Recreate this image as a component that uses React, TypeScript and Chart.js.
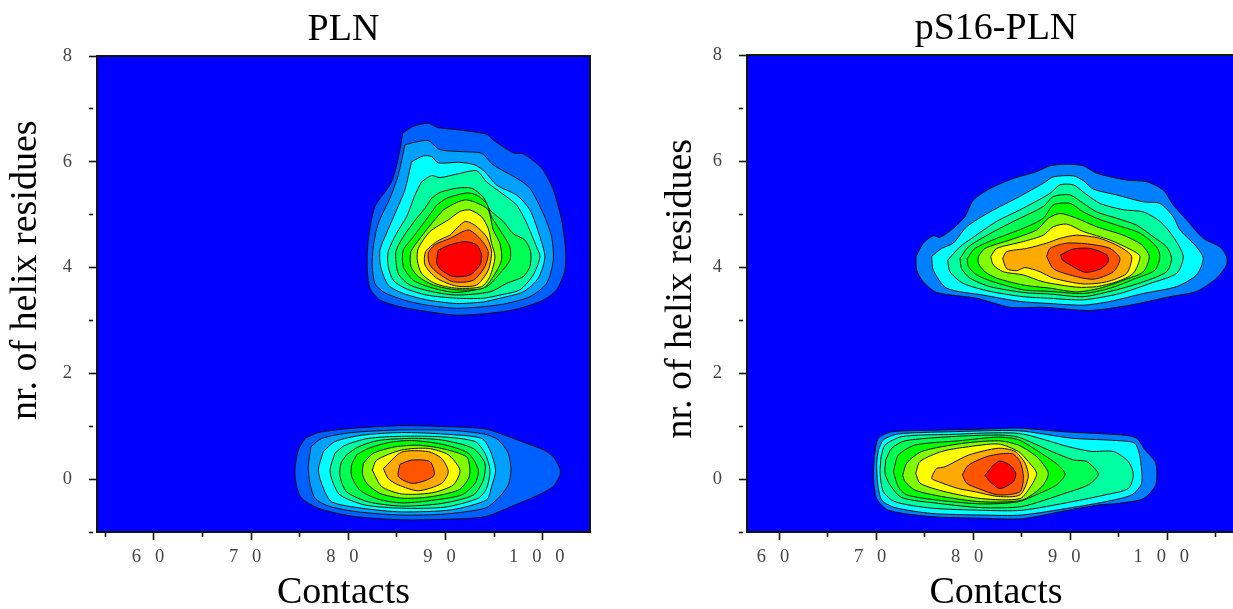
import React, { useEffect, useRef } from "react";
import { Chart, registerables } from "chart.js";

Chart.register(...registerables);

type Pt = [number, number];

const plnTitle = "PLN";
const phosTitle = "pS16-PLN";
const xAxisTitle = "Contacts";
const yAxisTitle = "nr. of helix residues";

const plnXRange = [54.14, 104.86];
const phosXRange = [56.7, 108];
const yRange = [-1, 8];
const plnXTicks = [55, 60, 65, 70, 75, 80, 85, 90, 95, 100];
const phosXTicks = [60, 65, 70, 75, 80, 85, 90, 95, 100, 105];
const yTicks = [-1, 0, 1, 2, 3, 4, 5, 6, 7, 8];
const xTickLabels: Record<number, string> = { 60: "6   0", 70: "7   0", 80: "8   0", 90: "9   0", 100: "1   0   0" };

const plotBlue = "#0000ff";
const plnUpperColors = ["#0060ff", "#00a0ff", "#00ffff", "#00ffa0", "#00ff55", "#00ff00", "#80ff00", "#ffff00", "#ffaa00", "#ff5500", "#ff0000"];
const plnLowerColors = ["#0060ff", "#00a0ff", "#00ffff", "#00ffa0", "#00ff55", "#00ff00", "#80ff00", "#ffff00", "#ffaa00", "#ff5500"];
const phosColors = ["#0080ff", "#00ffff", "#00ffa0", "#00ff55", "#00ff00", "#80ff00", "#ffff00", "#ffaa00", "#ff5500", "#ff0000"];

const plnUpper: Pt[][] = [
  [[85.58,6.54],[86.68,6.67],[88.22,6.73],[89.15,6.65],[91.48,6.6],[94.22,6.52],[94.91,6.41],[96.96,6.17],[97.99,6.15],[99.88,5.88],[101.08,5.47],[101.94,4.9],[102.35,4.33],[102.28,3.95],[101.42,3.58],[99.88,3.37],[96.96,3.2],[94.22,3.13],[91.13,3.1],[88.05,3.17],[85.3,3.26],[83.25,3.39],[82.22,3.61],[81.94,4.02],[82.05,4.52],[82.73,5.15],[84.45,5.62],[85.24,6.16]],
  [[85.82,6.32],[86.85,6.37],[88.22,6.4],[89.42,6.23],[91.82,6.19],[93.71,6.16],[94.91,5.94],[97.31,5.69],[98.68,5.5],[100.05,5.02],[100.91,4.58],[101.08,4.14],[100.39,3.7],[98.68,3.45],[96.28,3.32],[93.88,3.26],[91.13,3.23],[88.05,3.29],[85.65,3.39],[83.59,3.54],[82.73,3.7],[82.46,4.02],[82.56,4.39],[83.08,4.84],[84.28,5.31],[85.13,5.75]],
  [[86.5,6.0],[87.7,6.11],[88.56,6.1],[89.25,5.98],[91.48,5.99],[93.02,5.94],[94.05,5.81],[95.25,5.56],[97.31,5.37],[98.68,5.09],[99.71,4.58],[100.22,4.2],[99.54,3.8],[97.99,3.54],[95.59,3.42],[93.88,3.35],[91.13,3.32],[88.05,3.39],[85.65,3.51],[84.1,3.67],[83.32,4.02],[83.25,4.33],[83.93,4.65],[84.96,5.09],[85.82,5.47]],
  [[87.53,5.62],[88.56,5.74],[89.42,5.7],[91.48,5.78],[93.19,5.83],[94.22,5.62],[95.59,5.43],[97.31,5.18],[98.34,4.84],[99.36,4.39],[99.71,4.2],[99.02,3.86],[97.65,3.58],[95.59,3.48],[93.88,3.42],[91.13,3.42],[88.05,3.48],[85.82,3.61],[84.62,3.76],[84.1,4.02],[84.1,4.3],[84.96,4.65],[85.99,4.96],[86.85,5.37]],
  [[88.56,5.31],[89.42,5.42],[91.13,5.5],[92.68,5.5],[93.88,5.33],[94.56,5.09],[95.94,4.87],[96.96,4.64],[98.16,4.52],[98.75,4.3],[98.68,4.02],[97.99,3.83],[96.28,3.7],[94.56,3.54],[91.13,3.48],[88.73,3.54],[86.33,3.67],[85.13,3.89],[84.89,4.3],[85.65,4.58],[87.02,4.93],[87.88,5.12]],
  [[89.08,5.18],[90.11,5.31],[92.16,5.41],[93.19,5.37],[94.22,5.21],[94.73,4.96],[95.59,4.71],[96.62,4.39],[96.62,4.14],[95.59,3.89],[94.22,3.64],[91.13,3.53],[88.73,3.61],[86.68,3.76],[85.65,4.02],[85.65,4.33],[86.68,4.58],[88.22,4.96]],
  [[89.76,5.09],[91.13,5.23],[92.16,5.28],[93.36,5.21],[94.39,5.09],[94.91,4.71],[95.59,4.46],[95.76,4.14],[94.91,3.83],[93.88,3.61],[91.13,3.58],[88.73,3.67],[87.19,3.83],[86.44,4.02],[86.44,4.3],[87.36,4.55],[88.73,4.87]],
  [[90.28,4.9],[91.48,5.06],[92.5,5.09],[93.71,4.96],[94.39,4.74],[94.73,4.46],[95.08,4.2],[94.56,3.83],[93.71,3.64],[91.13,3.61],[88.9,3.7],[87.53,3.89],[87.09,4.14],[87.19,4.36],[88.39,4.68]],
  [[90.45,4.61],[91.99,4.87],[93.02,4.8],[94.22,4.58],[94.73,4.3],[94.39,3.95],[93.19,3.67],[91.13,3.65],[89.08,3.8],[87.88,4.05],[87.95,4.3],[89.08,4.49]],
  [[90.45,4.55],[92.33,4.71],[93.53,4.55],[94.39,4.3],[94.05,4.02],[92.85,3.76],[90.79,3.73],[89.25,3.89],[88.39,4.05],[88.22,4.27],[88.9,4.43]],
  [[89.25,4.33],[90.45,4.43],[91.99,4.49],[93.19,4.43],[93.71,4.24],[93.53,4.05],[92.5,3.86],[90.79,3.83],[89.59,3.95],[89.08,4.08]],
];

const plnLower: Pt[][] = [
  [[75.54,0.77],[76.91,0.88],[80.34,0.96],[85.48,1.01],[90.63,0.99],[94.05,0.95],[96.11,0.83],[97.83,0.71],[100.23,0.54],[101.08,0.42],[101.77,0.2],[101.77,0.08],[101.08,-0.14],[99.2,-0.33],[97.14,-0.49],[94.05,-0.71],[89.94,-0.76],[85.48,-0.77],[80.34,-0.7],[76.91,-0.55],[75.2,-0.36],[74.68,-0.14],[74.51,0.17],[74.85,0.55]],
  [[76.15,0.61],[77.25,0.77],[80.34,0.88],[85.48,0.93],[90.63,0.92],[94.05,0.85],[95.43,0.74],[96.45,0.49],[96.73,0.17],[96.45,-0.11],[95.43,-0.36],[94.05,-0.55],[89.94,-0.66],[85.48,-0.68],[81.02,-0.62],[77.94,-0.51],[76.57,-0.36],[76.05,-0.08],[75.88,0.24]],
  [[77.42,0.52],[78.62,0.71],[81.37,0.83],[85.48,0.88],[89.94,0.85],[93.71,0.77],[94.57,0.55],[95.15,0.17],[94.74,-0.14],[94.23,-0.39],[90.63,-0.58],[85.48,-0.62],[81.37,-0.55],[78.28,-0.43],[77.42,-0.17],[76.91,0.17]],
  [[78.62,0.49],[79.65,0.64],[82.05,0.77],[85.48,0.81],[89.6,0.8],[93.03,0.71],[94.05,0.49],[94.57,0.17],[94.23,-0.17],[93.37,-0.36],[89.94,-0.53],[85.48,-0.55],[81.71,-0.49],[79.14,-0.3],[78.45,-0.08],[78.11,0.17]],
  [[79.82,0.46],[81.02,0.61],[83.08,0.73],[86.51,0.77],[89.6,0.74],[92.85,0.58],[94.05,0.3],[93.88,-0.02],[92.85,-0.3],[89.6,-0.46],[85.48,-0.51],[82.05,-0.43],[79.82,-0.24],[79.14,0.05],[79.24,0.3]],
  [[80.85,0.46],[82.05,0.58],[84.11,0.69],[86.51,0.73],[89.6,0.66],[92.34,0.49],[93.37,0.17],[93.03,-0.08],[91.65,-0.3],[88.22,-0.41],[85.48,-0.45],[83.08,-0.38],[81.2,-0.21],[80.34,0.05],[80.34,0.27]],
  [[81.54,0.3],[82.57,0.49],[84.8,0.61],[87.2,0.64],[89.6,0.58],[92.17,0.42],[92.51,0.17],[92.34,0.0],[91.31,-0.21],[88.22,-0.34],[85.48,-0.36],[83.25,-0.27],[81.88,-0.08],[81.44,0.11]],
  [[82.46,0.17],[82.91,0.36],[85.48,0.55],[88.22,0.58],[90.28,0.46],[91.48,0.17],[90.8,-0.11],[88.57,-0.26],[85.48,-0.28],[83.42,-0.14]],
  [[83.6,0.2],[85.48,0.51],[88.22,0.52],[89.6,0.39],[90.28,0.14],[89.6,-0.08],[87.2,-0.22],[85.14,-0.11],[84.11,0.01]],
  [[85.31,0.28],[86.51,0.36],[88.4,0.33],[88.84,0.08],[87.88,-0.03],[86.51,-0.08],[85.14,0.05]],
];

const phosUpper: Pt[][] = [
  [[74.11,4.2],[74.86,4.45],[75.89,4.59],[76.58,4.56],[77.95,4.73],[79.15,4.95],[80.01,5.26],[81.73,5.48],[84.13,5.67],[86.54,5.8],[87.91,5.91],[89.63,5.94],[91.34,5.91],[92.71,5.77],[95.8,5.64],[97.86,5.61],[99.58,5.45],[100.61,5.17],[101.98,4.89],[103.7,4.54],[105.42,4.38],[106.1,4.2],[106.1,4.04],[105.07,3.79],[103.01,3.54],[100.27,3.44],[96.15,3.28],[92.03,3.18],[87.22,3.24],[83.79,3.24],[80.36,3.41],[76.24,3.52],[74.86,3.72],[74.18,3.94]],
  [[75.72,4.2],[76.75,4.35],[77.95,4.45],[79.33,4.76],[81.73,5.04],[84.48,5.3],[87.22,5.58],[88.25,5.7],[90.31,5.72],[91.34,5.63],[92.37,5.47],[94.77,5.36],[97.52,5.23],[99.24,5.2],[100.61,4.95],[101.3,4.7],[103.01,4.38],[103.7,4.16],[103.01,3.85],[100.95,3.63],[97.52,3.5],[94.09,3.35],[91.34,3.28],[87.91,3.31],[84.82,3.35],[81.04,3.47],[77.27,3.6],[75.89,3.94]],
  [[77.37,4.13],[78.64,4.38],[79.84,4.54],[82.42,4.86],[85.16,5.11],[87.91,5.39],[88.94,5.55],[90.31,5.55],[91.51,5.39],[93.06,5.2],[95.46,5.08],[97.52,5.04],[99.24,4.86],[100.61,4.57],[101.64,4.2],[100.95,3.88],[98.21,3.69],[95.12,3.5],[91.34,3.38],[87.91,3.41],[85.16,3.44],[81.73,3.54],[78.98,3.69],[77.61,3.91]],
  [[78.64,4.16],[79.5,4.38],[81.73,4.63],[84.48,4.89],[87.22,5.14],[88.25,5.33],[89.97,5.36],[91.34,5.2],[92.71,5.04],[94.77,4.92],[96.83,4.79],[98.55,4.57],[99.92,4.38],[100.44,4.16],[99.92,3.91],[97.52,3.72],[94.77,3.57],[91.34,3.44],[87.91,3.49],[85.16,3.52],[81.73,3.63],[79.67,3.79],[78.81,3.97]],
  [[79.39,4.16],[80.18,4.35],[82.42,4.54],[85.16,4.73],[87.22,4.92],[88.25,5.17],[89.97,5.2],[91.34,5.04],[92.71,4.92],[94.77,4.79],[97.18,4.64],[98.89,4.38],[99.24,4.2],[98.72,3.94],[96.83,3.79],[94.09,3.6],[91.34,3.5],[87.91,3.54],[85.16,3.57],[82.07,3.72],[80.36,3.85],[79.5,4.01]],
  [[80.53,4.2],[81.21,4.35],[83.79,4.51],[86.54,4.7],[87.74,4.92],[88.94,5.01],[90.66,4.92],[92.71,4.76],[95.46,4.6],[97.35,4.42],[98.14,4.2],[97.52,3.91],[95.46,3.75],[93.06,3.6],[90.66,3.53],[87.91,3.6],[85.16,3.66],[82.42,3.79],[81.21,3.91],[80.53,4.07]],
  [[81.8,4.2],[82.42,4.35],[85.16,4.48],[87.22,4.6],[88.25,4.76],[89.63,4.81],[91.34,4.67],[94.09,4.51],[96.32,4.32],[97.18,4.2],[96.49,3.88],[94.77,3.72],[92.71,3.63],[90.66,3.62],[87.22,3.72],[85.16,3.85],[83.1,3.91],[82.07,4.04]],
  [[83.03,4.16],[83.45,4.29],[85.5,4.35],[87.57,4.45],[88.94,4.54],[90.66,4.6],[93.06,4.54],[95.12,4.38],[96.32,4.2],[95.8,3.88],[93.74,3.72],[91.34,3.68],[88.25,3.79],[86.88,3.91],[85.33,3.99],[84.48,3.93],[83.45,3.97]],
  [[87.57,4.2],[87.91,4.35],[89.63,4.45],[92.03,4.43],[94.09,4.35],[95.12,4.16],[94.43,3.91],[92.37,3.77],[89.97,3.85],[88.25,3.97]],
  [[89.01,4.23],[90.31,4.34],[92.03,4.35],[93.74,4.23],[93.92,4.1],[93.06,3.96],[91.51,3.9],[89.97,4.04],[89.21,4.13]],
];

const phosLower: Pt[][] = [
  [[69.82,0.45],[70.23,0.77],[71.61,0.89],[75.73,0.92],[80.88,0.94],[84.65,0.96],[89.46,0.89],[95.3,0.83],[96.84,0.77],[97.7,0.55],[98.8,0.3],[98.8,-0.11],[97.53,-0.37],[94.95,-0.46],[92.89,-0.49],[89.46,-0.6],[85.0,-0.75],[80.88,-0.74],[75.73,-0.71],[71.26,-0.59],[70.06,-0.37],[69.72,0.04]],
  [[70.23,0.55],[70.75,0.74],[72.29,0.85],[77.44,0.89],[84.65,0.91],[90.15,0.77],[95.3,0.72],[96.67,0.67],[97.18,0.42],[97.35,-0.08],[96.32,-0.3],[93.58,-0.43],[90.15,-0.54],[84.99,-0.68],[80.88,-0.68],[75.73,-0.65],[71.95,-0.54],[70.58,-0.4],[70.16,-0.08],[70.06,0.3]],
  [[70.51,0.42],[70.92,0.64],[72.64,0.8],[77.44,0.84],[84.65,0.86],[89.8,0.61],[92.2,0.52],[94.44,0.52],[95.98,0.33],[96.5,0.08],[95.98,-0.18],[93.58,-0.3],[90.15,-0.43],[84.99,-0.59],[80.88,-0.59],[75.73,-0.55],[71.95,-0.43],[70.75,-0.24],[70.41,0.11]],
  [[70.99,0.36],[71.61,0.58],[72.98,0.72],[77.79,0.8],[82.59,0.83],[84.65,0.79],[88.08,0.52],[90.32,0.36],[91.69,0.33],[92.89,0.09],[91.86,-0.11],[89.46,-0.27],[84.99,-0.52],[80.88,-0.54],[76.41,-0.46],[72.64,-0.35],[71.43,-0.11],[70.92,0.11]],
  [[71.78,0.14],[72.29,0.45],[74.01,0.64],[78.47,0.72],[82.59,0.79],[84.65,0.74],[87.06,0.48],[88.77,0.26],[89.46,0.09],[88.6,-0.11],[86.71,-0.28],[84.65,-0.43],[80.88,-0.47],[76.41,-0.4],[73.15,-0.3],[72.29,-0.15]],
  [[72.74,0.07],[73.15,0.3],[74.7,0.52],[78.82,0.67],[82.59,0.72],[84.65,0.64],[86.54,0.42],[87.74,0.11],[87.06,-0.15],[85.0,-0.4],[80.88,-0.43],[76.76,-0.33],[74.01,-0.21],[72.98,-0.05]],
  [[74.08,0.11],[74.52,0.33],[76.76,0.52],[79.16,0.6],[82.59,0.66],[84.65,0.52],[85.68,0.33],[86.54,0.11],[86.03,-0.11],[84.82,-0.37],[80.88,-0.37],[77.1,-0.24],[74.52,-0.08]],
  [[75.9,0.11],[76.24,0.2],[77.1,0.23],[79.5,0.45],[82.59,0.58],[84.31,0.52],[85.34,0.3],[85.68,0.04],[84.82,-0.3],[82.59,-0.33],[80.19,-0.24],[78.47,-0.18],[76.41,-0.05],[75.73,0.01]],
  [[78.88,0.08],[79.5,0.26],[81.56,0.43],[83.97,0.48],[84.82,0.33],[85.17,0.04],[84.82,-0.24],[82.59,-0.3],[80.53,-0.18],[79.33,-0.08]],
  [[81.22,0.07],[82.08,0.26],[82.76,0.34],[83.79,0.26],[84.38,0.11],[84.14,-0.05],[82.76,-0.18],[81.73,-0.05]],
];

const FONT = "'Liberation Serif', 'Times New Roman', serif";
const INK = "#151515";

function bandDataset(points: Pt[], color: string, order: number, frame: boolean) {
  const closed = [...points, points[0]].map(([x, y]) => ({ x, y }));
  return {
    data: closed,
    showLine: true,
    fill: "shape",
    backgroundColor: color,
    borderColor: frame ? INK : "#101010",
    borderWidth: frame ? 2 : 1,
    clip: frame ? false : undefined,
    pointRadius: 0,
    pointHoverRadius: 0,
    tension: frame ? 0 : 0.25,
    order,
  };
}

function buildChart(
  canvas: HTMLCanvasElement,
  cfg: {
    title: string;
    yTitle: string;
    xRange: number[];
    xTicks: number[];
    groups: { contours: Pt[][]; colors: string[] }[];
    titleTop: number;
    titleBottom: number;
    yTitlePad: number;
    rightPad: number;
  }
) {
  const [xMin, xMax] = cfg.xRange;
  const [yMin, yMax] = yRange;
  const rect: Pt[] = [[xMin, yMin], [xMax, yMin], [xMax, yMax], [xMin, yMax]];
  const datasets: any[] = [bandDataset(rect, plotBlue, 1000, true)];
  cfg.groups.forEach((g, gi) => {
    g.contours.forEach((c, i) => {
      datasets.push(bandDataset(c, g.colors[i], 500 - gi * 100 - i, false));
    });
  });
  return new Chart(canvas, {
    type: "scatter",
    data: { datasets },
    options: {
      responsive: false,
      animation: false,
      events: [],
      layout: { autoPadding: false, padding: { left: 0, top: 0, bottom: 0, right: cfg.rightPad } },
      plugins: {
        legend: { display: false },
        tooltip: { enabled: false },
        title: {
          display: true,
          text: cfg.title,
          color: "#000",
          fullSize: false,
          font: { family: FONT, size: 38, weight: "normal", lineHeight: 1 },
          padding: { top: cfg.titleTop, bottom: cfg.titleBottom },
        },
      },
      scales: {
        x: {
          type: "linear",
          min: xMin,
          max: xMax,
          afterBuildTicks: (s: any) => {
            s.ticks = cfg.xTicks.map((value) => ({ value }));
          },
          afterFit: (s: any) => {
            s.height = 77;
          },
          grid: {
            drawOnChartArea: false,
            tickLength: 8,
            tickWidth: 1.6,
            tickColor: INK,
            tickBorderDash: (c: any) => (c.tick && c.tick.value % 10 !== 0 ? [4, 100] : []),
          },
          border: { color: INK, width: 2 },
          ticks: {
            autoSkip: false,
            maxRotation: 0,
            minRotation: 0,
            padding: 6,
            labelOffset: -6,
            color: "#444444",
            font: { family: FONT, size: 18.5 },
            callback: (v: any) => xTickLabels[v] ?? "",
          },
          title: {
            display: true,
            text: xAxisTitle,
            color: "#000",
            font: { family: FONT, size: 38, lineHeight: 1 },
            padding: { top: 0, bottom: -3 },
          },
        },
        y: {
          type: "linear",
          min: yMin,
          max: yMax,
          afterBuildTicks: (s: any) => {
            s.ticks = yTicks.map((value) => ({ value }));
          },
          afterFit: (s: any) => {
            s.width = 97;
          },
          grid: {
            drawOnChartArea: false,
            tickLength: 8,
            tickWidth: 1.6,
            tickColor: INK,
            tickBorderDash: (c: any) => (c.tick && c.tick.value % 2 !== 0 ? [4, 100] : []),
          },
          border: { color: INK, width: 2 },
          ticks: {
            autoSkip: false,
            padding: 17,
            color: "#444444",
            font: { family: FONT, size: 18.5 },
            callback: (v: any) => (v % 2 === 0 ? String(v) : ""),
          },
          title: {
            display: true,
            text: cfg.yTitle,
            color: "#000",
            font: { family: FONT, size: 38, lineHeight: 1 },
            padding: { top: cfg.yTitlePad, bottom: 0 },
          },
        },
      },
    } as any,
  });
}

export default function App() {
  const leftRef = useRef<HTMLCanvasElement>(null);
  const rightRef = useRef<HTMLCanvasElement>(null);

  useEffect(() => {
    const left = buildChart(leftRef.current!, {
      title: plnTitle,
      yTitle: "     " + yAxisTitle,
      xRange: plnXRange,
      xTicks: plnXTicks,
      groups: [
        { contours: plnUpper, colors: plnUpperColors },
        { contours: plnLower, colors: plnLowerColors },
      ],
      titleTop: 11,
      titleBottom: 7,
      yTitlePad: 7,
      rightPad: 3,
    });
    const right = buildChart(rightRef.current!, {
      title: phosTitle,
      yTitle: " " + yAxisTitle,
      xRange: phosXRange,
      xTicks: phosXTicks,
      groups: [
        { contours: phosUpper, colors: phosColors },
        { contours: phosLower, colors: phosColors },
      ],
      titleTop: 10,
      titleBottom: 7,
      yTitlePad: 12,
      rightPad: 0,
    });
    return () => {
      left.destroy();
      right.destroy();
    };
  }, []);

  return (
    <div style={{ position: "fixed", left: 0, top: 0, width: 1233, height: 609, overflow: "hidden", background: "#fff" }}>
      <canvas ref={leftRef} width={593} height={609} style={{ position: "absolute", left: 0, top: 0 }} />
      <canvas ref={rightRef} width={595} height={609} style={{ position: "absolute", left: 650, top: 0 }} />
    </div>
  );
}
